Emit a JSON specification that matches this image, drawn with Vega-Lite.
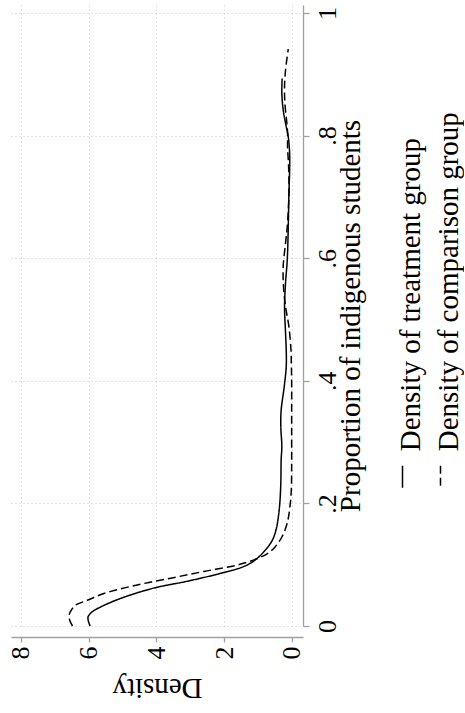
{
  "$schema": "https://vega.github.io/schema/vega-lite/v6.json",
  "width": 292,
  "height": 621,
  "padding": {"left": 7, "top": 5, "right": 0, "bottom": 8},
  "config": {
    "view": {"stroke": null},
    "font": "Liberation Serif"
  },
  "data": {
    "values": [
      {"group": "Density of treatment group", "p": 0, "d": 5.96},
      {"group": "Density of treatment group", "p": 0.008, "d": 6.01},
      {"group": "Density of treatment group", "p": 0.015, "d": 6.02},
      {"group": "Density of treatment group", "p": 0.023, "d": 5.9},
      {"group": "Density of treatment group", "p": 0.031, "d": 5.65},
      {"group": "Density of treatment group", "p": 0.045, "d": 5.06},
      {"group": "Density of treatment group", "p": 0.062, "d": 4.07},
      {"group": "Density of treatment group", "p": 0.073, "d": 3.09},
      {"group": "Density of treatment group", "p": 0.086, "d": 2.1},
      {"group": "Density of treatment group", "p": 0.096, "d": 1.47},
      {"group": "Density of treatment group", "p": 0.105, "d": 1.15},
      {"group": "Density of treatment group", "p": 0.121, "d": 0.83},
      {"group": "Density of treatment group", "p": 0.14, "d": 0.58},
      {"group": "Density of treatment group", "p": 0.157, "d": 0.47},
      {"group": "Density of treatment group", "p": 0.175, "d": 0.41},
      {"group": "Density of treatment group", "p": 0.2, "d": 0.36},
      {"group": "Density of treatment group", "p": 0.233, "d": 0.33},
      {"group": "Density of treatment group", "p": 0.271, "d": 0.32},
      {"group": "Density of treatment group", "p": 0.293, "d": 0.3},
      {"group": "Density of treatment group", "p": 0.325, "d": 0.33},
      {"group": "Density of treatment group", "p": 0.352, "d": 0.32},
      {"group": "Density of treatment group", "p": 0.39, "d": 0.23},
      {"group": "Density of treatment group", "p": 0.423, "d": 0.17},
      {"group": "Density of treatment group", "p": 0.45, "d": 0.17},
      {"group": "Density of treatment group", "p": 0.478, "d": 0.19},
      {"group": "Density of treatment group", "p": 0.521, "d": 0.22},
      {"group": "Density of treatment group", "p": 0.56, "d": 0.19},
      {"group": "Density of treatment group", "p": 0.597, "d": 0.14},
      {"group": "Density of treatment group", "p": 0.651, "d": 0.11},
      {"group": "Density of treatment group", "p": 0.706, "d": 0.09},
      {"group": "Density of treatment group", "p": 0.744, "d": 0.07},
      {"group": "Density of treatment group", "p": 0.771, "d": 0.07},
      {"group": "Density of treatment group", "p": 0.798, "d": 0.11},
      {"group": "Density of treatment group", "p": 0.82, "d": 0.19},
      {"group": "Density of treatment group", "p": 0.842, "d": 0.26},
      {"group": "Density of treatment group", "p": 0.87, "d": 0.3},
      {"group": "Density of treatment group", "p": 0.893, "d": 0.29},
      {"group": "Density of comparison group", "p": 0, "d": 6.48},
      {"group": "Density of comparison group", "p": 0.009, "d": 6.56},
      {"group": "Density of comparison group", "p": 0.018, "d": 6.58},
      {"group": "Density of comparison group", "p": 0.027, "d": 6.5},
      {"group": "Density of comparison group", "p": 0.034, "d": 6.39},
      {"group": "Density of comparison group", "p": 0.042, "d": 6.04},
      {"group": "Density of comparison group", "p": 0.053, "d": 5.55},
      {"group": "Density of comparison group", "p": 0.067, "d": 4.57},
      {"group": "Density of comparison group", "p": 0.078, "d": 3.58},
      {"group": "Density of comparison group", "p": 0.089, "d": 2.6},
      {"group": "Density of comparison group", "p": 0.0995, "d": 1.61},
      {"group": "Density of comparison group", "p": 0.11, "d": 1.02},
      {"group": "Density of comparison group", "p": 0.119, "d": 0.7},
      {"group": "Density of comparison group", "p": 0.129, "d": 0.5},
      {"group": "Density of comparison group", "p": 0.146, "d": 0.29},
      {"group": "Density of comparison group", "p": 0.168, "d": 0.14},
      {"group": "Density of comparison group", "p": 0.195, "d": 0.06},
      {"group": "Density of comparison group", "p": 0.222, "d": 0.02},
      {"group": "Density of comparison group", "p": 0.26, "d": 0.01},
      {"group": "Density of comparison group", "p": 0.3, "d": 0.01},
      {"group": "Density of comparison group", "p": 0.342, "d": 0.01},
      {"group": "Density of comparison group", "p": 0.396, "d": 0.01},
      {"group": "Density of comparison group", "p": 0.43, "d": 0.02},
      {"group": "Density of comparison group", "p": 0.45, "d": 0.03},
      {"group": "Density of comparison group", "p": 0.488, "d": 0.09},
      {"group": "Density of comparison group", "p": 0.521, "d": 0.19},
      {"group": "Density of comparison group", "p": 0.553, "d": 0.25},
      {"group": "Density of comparison group", "p": 0.586, "d": 0.26},
      {"group": "Density of comparison group", "p": 0.625, "d": 0.19},
      {"group": "Density of comparison group", "p": 0.651, "d": 0.14},
      {"group": "Density of comparison group", "p": 0.706, "d": 0.09},
      {"group": "Density of comparison group", "p": 0.75, "d": 0.1},
      {"group": "Density of comparison group", "p": 0.78, "d": 0.13},
      {"group": "Density of comparison group", "p": 0.804, "d": 0.13},
      {"group": "Density of comparison group", "p": 0.825, "d": 0.16},
      {"group": "Density of comparison group", "p": 0.853, "d": 0.21},
      {"group": "Density of comparison group", "p": 0.88, "d": 0.22},
      {"group": "Density of comparison group", "p": 0.907, "d": 0.19},
      {"group": "Density of comparison group", "p": 0.941, "d": 0.11}
    ]
  },
  "mark": {"type": "line", "interpolate": "catmull-rom", "strokeWidth": 1.5, "color": "black"},
  "encoding": {
    "x": {
      "field": "d",
      "type": "quantitative",
      "scale": {"domain": [-0.325, 8.295], "reverse": true, "nice": false, "zero": false},
      "axis": {
        "title": "Density",
        "orient": "bottom",
        "values": [0, 2, 4, 6, 8],
        "offset": 11,
        "grid": true,
        "gridColor": "#c8c8c8",
        "gridDash": [1, 3],
        "gridWidth": 1,
        "domainColor": "#a0a0a0",
        "domainWidth": 1.3,
        "tickColor": "#a0a0a0",
        "tickWidth": 1.3,
        "tickSize": 5,
        "labelAngle": -90,
        "labelAlign": "right",
        "labelBaseline": "middle",
        "labelPadding": 4,
        "labelFontSize": 26,
        "labelColor": "black",
        "labelFont": "Liberation Serif",
        "labelFlush": false,
        "labelOverlap": false,
        "titleAngle": 180,
        "titleAlign": "center",
        "titleBaseline": "bottom",
        "titlePadding": 13,
        "titleFontSize": 29,
        "titleFontWeight": "normal",
        "titleColor": "black",
        "titleFont": "Liberation Serif"
      }
    },
    "y": {
      "field": "p",
      "type": "quantitative",
      "scale": {"domain": [0, 1.013], "nice": false, "zero": false},
      "axis": {
        "title": "Proportion of indigenous students",
        "orient": "right",
        "values": [0, 0.2, 0.4, 0.6, 0.8, 1],
        "labelExpr": "datum.value == 0 ? '0' : datum.value == 1 ? '1' : replace(format(datum.value, '.1f'), '0.', '.')",
        "offset": 0,
        "grid": true,
        "gridColor": "#c8c8c8",
        "gridDash": [1, 3],
        "gridWidth": 1,
        "domainColor": "#a0a0a0",
        "domainWidth": 1.3,
        "tickColor": "#a0a0a0",
        "tickWidth": 1.3,
        "tickSize": 6,
        "labelAngle": -90,
        "labelAlign": "center",
        "labelBaseline": "top",
        "labelPadding": 5.5,
        "labelFontSize": 26,
        "labelColor": "black",
        "labelFont": "Liberation Serif",
        "labelFlush": false,
        "labelOverlap": false,
        "titleAngle": -90,
        "titleAlign": "center",
        "titleBaseline": "top",
        "titlePadding": -4,
        "titleFontSize": 29,
        "titleFontWeight": "normal",
        "titleColor": "black",
        "titleFont": "Liberation Serif"
      }
    },
    "order": {"field": "p", "type": "quantitative"},
    "strokeDash": {
      "field": "group",
      "type": "nominal",
      "scale": {
        "domain": ["Density of treatment group", "Density of comparison group"],
        "range": [[1, 0], [8, 4]]
      },
      "legend": {
        "title": null,
        "orient": "none",
        "legendX": 377,
        "legendY": 457,
        "direction": "horizontal",
        "columns": 2,
        "columnPadding": 0,
        "padding": 0,
        "symbolType": "M0,-1L0,1",
        "symbolSize": 484,
        "symbolStrokeColor": "black",
        "symbolStrokeWidth": 1.5,
        "labelFont": "Liberation Serif",
        "labelFontSize": 29,
        "labelColor": "black",
        "labelAlign": "left",
        "labelBaseline": "alphabetic",
        "labelOffset": 0,
        "labelLimit": 600,
        "encode": {
          "labels": {
            "update": {
              "angle": {"value": -90},
              "dx": {"value": 25.5},
              "dy": {"value": 2.5}
            }
          }
        }
      }
    }
  }
}
